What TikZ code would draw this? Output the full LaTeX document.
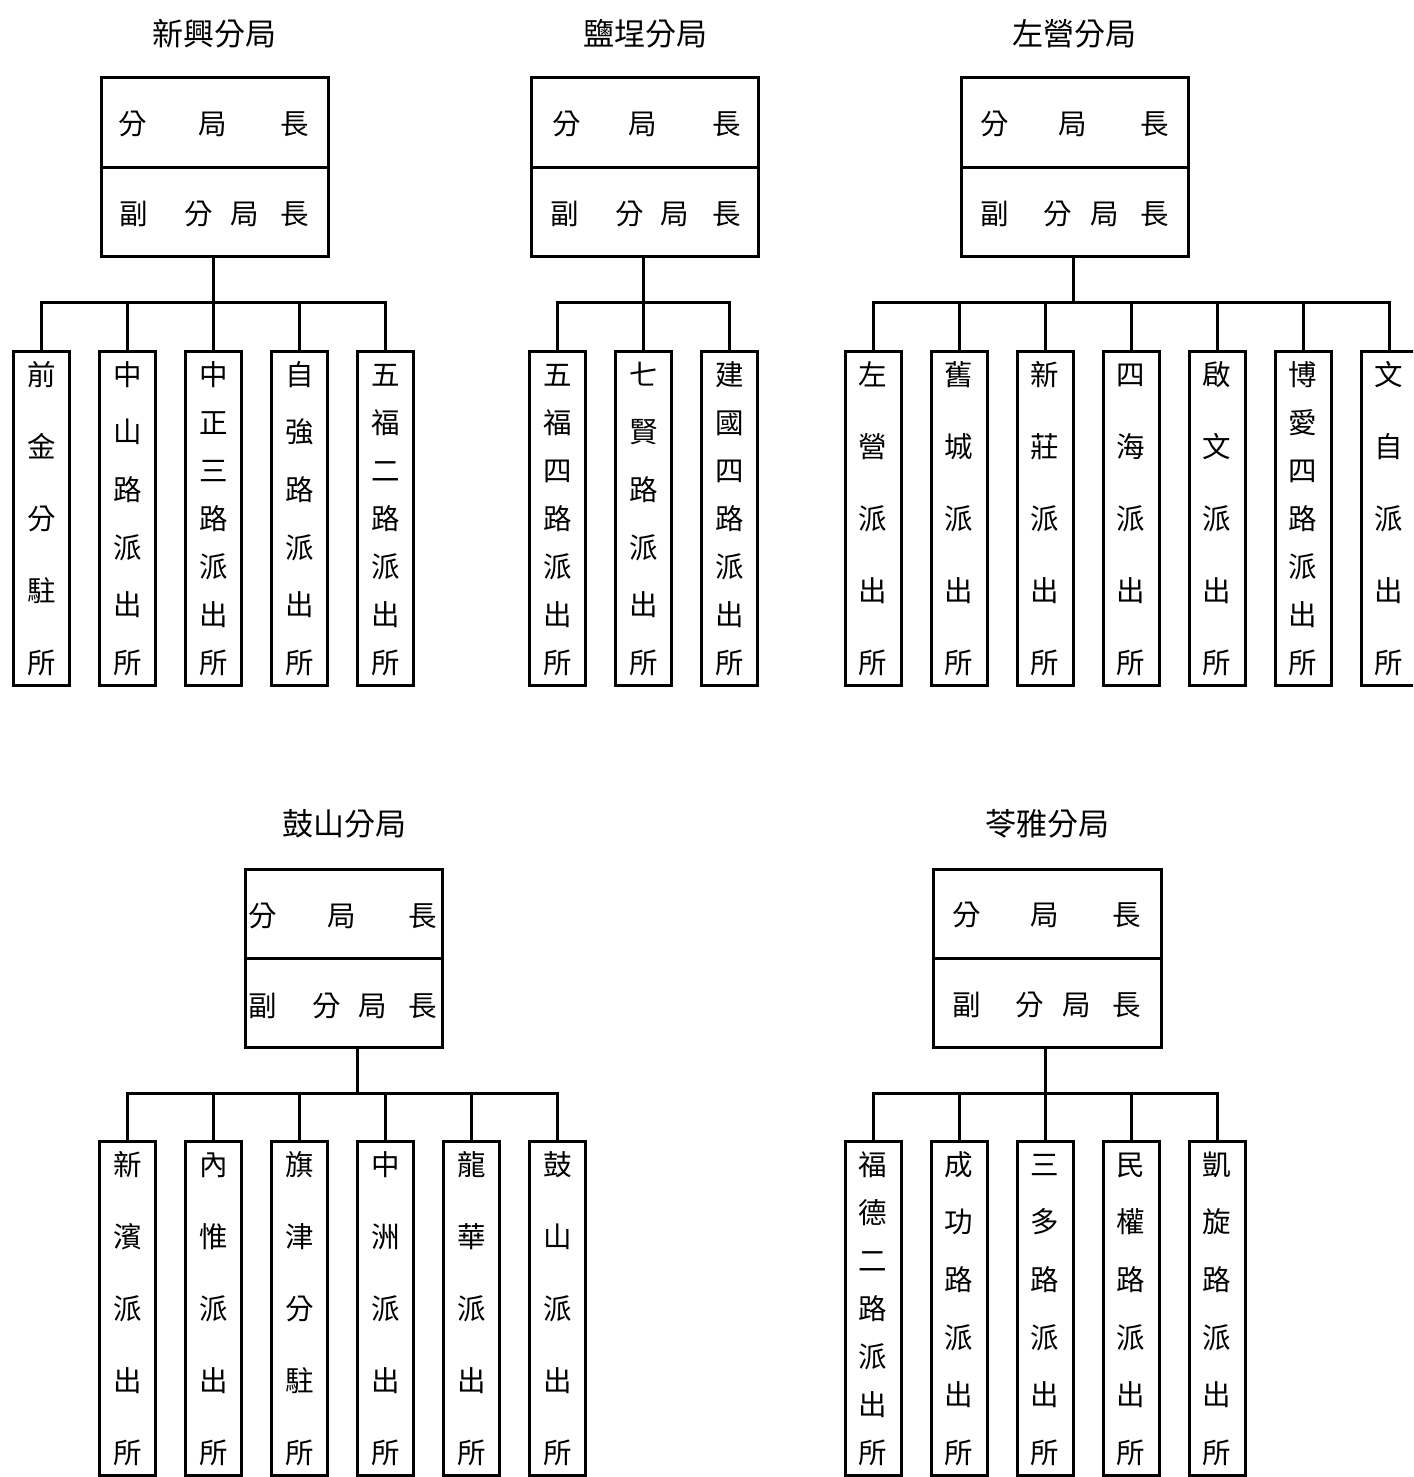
\documentclass[tikz,border=0pt]{standalone}
\usepackage{fontspec}
\setmainfont{Noto Sans CJK TC}
\newcommand\stn[5]{% name, cx, pathtop, n, list
  \node[cbox] (#1) at (#2,#3) {};
  \foreach \c [count=\i] in {#5}{
    \pgfmathsetmacro\yy{#3+25.5+(\i-1)*288/(#4-1)}
    \node[ch] (#1-\i) at (#2,\yy) {\c};
  }
}
\newcommand\headbx[4]{% name, left, top, width
  \node[headbox, minimum width=#4pt] (#1u) at (#2,#3) {};
  \node[headbox, minimum width=#4pt] (#1l) at (#2,#3+89.25) {};
}
\begin{document}
\begin{tikzpicture}[x=1pt,y=-1pt,
  lw/.style={line width=3pt},
  headbox/.style={draw, lw, minimum height=89.25pt, inner sep=0pt, anchor=north west},
  cbox/.style={draw, lw, minimum width=56pt, minimum height=334pt, inner sep=0pt, anchor=north},
  ch/.style={inner sep=0pt, font=\fontsize{28.5}{28.5}\selectfont, text height=0.88em, text depth=0.12em, yshift=-6.5pt},
  ttl/.style={inner sep=0pt, font=\fontsize{31}{31}\selectfont, text height=0.88em, text depth=0.12em, yshift=-6.5pt},
  conn/.style={lw}]
\useasboundingbox (0,0) rectangle (1413,1477);
\clip (0,0) rectangle (1413,1477);

% ---------- titles ----------
\node[ttl] (t1) at (214,35) {新興分局};
\node[ttl] (t2) at (645,35) {鹽埕分局};
\node[ttl] (t3) at (1074,35) {左營分局};
\node[ttl] (t4) at (344,825) {鼓山分局};
\node[ttl] (t5) at (1047,825) {苓雅分局};

% ---------- head boxes ----------
\headbx{g1}{99.5}{76.5}{227}
\headbx{g2}{529.5}{76.5}{227}
\headbx{g3}{959.5}{76.5}{227}
\headbx{g4}{243.5}{867.5}{197}
\headbx{g5}{931.5}{867.5}{228}

% head texts, group 1
\node[ch] (g1a1) at (133,124) {分}; \node[ch] (g1a2) at (213,124) {局}; \node[ch] (g1a3) at (295,124) {長};
\node[ch] (g1b1) at (134,214) {副}; \node[ch] (g1b2) at (199,214) {分}; \node[ch] (g1b3) at (245,214) {局}; \node[ch] (g1b4) at (295,214) {長};
% group 2
\node[ch] (g2a1) at (567,124) {分}; \node[ch] (g2a2) at (643,124) {局}; \node[ch] (g2a3) at (727,124) {長};
\node[ch] (g2b1) at (565,214) {副}; \node[ch] (g2b2) at (630,214) {分}; \node[ch] (g2b3) at (675,214) {局}; \node[ch] (g2b4) at (727,214) {長};
% group 3
\node[ch] (g3a1) at (995,124) {分}; \node[ch] (g3a2) at (1073,124) {局}; \node[ch] (g3a3) at (1155,124) {長};
\node[ch] (g3b1) at (995,214) {副}; \node[ch] (g3b2) at (1058,214) {分}; \node[ch] (g3b3) at (1105,214) {局}; \node[ch] (g3b4) at (1155,214) {長};
% group 4
\node[ch] (g4a1) at (263,916) {分}; \node[ch] (g4a2) at (342,916) {局}; \node[ch] (g4a3) at (423,916) {長};
\node[ch] (g4b1) at (263,1006) {副}; \node[ch] (g4b2) at (327,1006) {分}; \node[ch] (g4b3) at (373,1006) {局}; \node[ch] (g4b4) at (423,1006) {長};
% group 5
\node[ch] (g5a1) at (967,915) {分}; \node[ch] (g5a2) at (1045,915) {局}; \node[ch] (g5a3) at (1127,915) {長};
\node[ch] (g5b1) at (967,1005) {副}; \node[ch] (g5b2) at (1030,1005) {分}; \node[ch] (g5b3) at (1077,1005) {局}; \node[ch] (g5b4) at (1127,1005) {長};

% ---------- junctions ----------
\coordinate (j1) at (213,302);
\coordinate (j2) at (643.5,302);
\coordinate (j3) at (1073.5,302);
\coordinate (j4) at (357,1093);
\coordinate (j5) at (1045,1093);

% ---------- stations ----------
\stn{c11}{41.5}{349.5}{5}{前,金,分,駐,所}
\stn{c12}{127.5}{349.5}{6}{中,山,路,派,出,所}
\stn{c13}{213.5}{349.5}{7}{中,正,三,路,派,出,所}
\stn{c14}{299.5}{349.5}{6}{自,強,路,派,出,所}
\stn{c15}{385.5}{349.5}{7}{五,福,二,路,派,出,所}

\stn{c21}{557.5}{349.5}{7}{五,福,四,路,派,出,所}
\stn{c22}{643.5}{349.5}{6}{七,賢,路,派,出,所}
\stn{c23}{729.5}{349.5}{7}{建,國,四,路,派,出,所}

\stn{c31}{873}{349.5}{5}{左,營,派,出,所}
\stn{c32}{959}{349.5}{5}{舊,城,派,出,所}
\stn{c33}{1045}{349.5}{5}{新,莊,派,出,所}
\stn{c34}{1131}{349.5}{5}{四,海,派,出,所}
\stn{c35}{1217}{349.5}{5}{啟,文,派,出,所}
\stn{c36}{1303}{349.5}{7}{博,愛,四,路,派,出,所}
\stn{c37}{1389}{349.5}{5}{文,自,派,出,所}

\stn{c41}{127.5}{1139.5}{5}{新,濱,派,出,所}
\stn{c42}{213.5}{1139.5}{5}{內,惟,派,出,所}
\stn{c43}{299.5}{1139.5}{5}{旗,津,分,駐,所}
\stn{c44}{385.5}{1139.5}{5}{中,洲,派,出,所}
\stn{c45}{471.5}{1139.5}{5}{龍,華,派,出,所}
\stn{c46}{557.5}{1139.5}{5}{鼓,山,派,出,所}

\stn{c51}{873}{1139.5}{7}{福,德,二,路,派,出,所}
\stn{c52}{959}{1139.5}{6}{成,功,路,派,出,所}
\stn{c53}{1045}{1139.5}{6}{三,多,路,派,出,所}
\stn{c54}{1131}{1139.5}{6}{民,權,路,派,出,所}
\stn{c55}{1217}{1139.5}{6}{凱,旋,路,派,出,所}

% ---------- connectors ----------
\draw[conn] (j1 |- g1l.south) -- (j1);
\draw[conn] (j2 |- g2l.south) -- (j2);
\draw[conn] (j3 |- g3l.south) -- (j3);
\draw[conn] (j4 |- g4l.south) -- (j4);
\draw[conn] (j5 |- g5l.south) -- (j5);

\foreach \c in {c11,c12,c13,c14,c15} \draw[conn] (\c.north) |- (j1);
\foreach \c in {c21,c22,c23} \draw[conn] (\c.north) |- (j2);
\foreach \c in {c31,c32,c33,c34,c35,c36,c37} \draw[conn] (\c.north) |- (j3);
\foreach \c in {c41,c42,c43,c44,c45,c46} \draw[conn] (\c.north) |- (j4);
\foreach \c in {c51,c52,c53,c54,c55} \draw[conn] (\c.north) |- (j5);
\end{tikzpicture}
\end{document}
